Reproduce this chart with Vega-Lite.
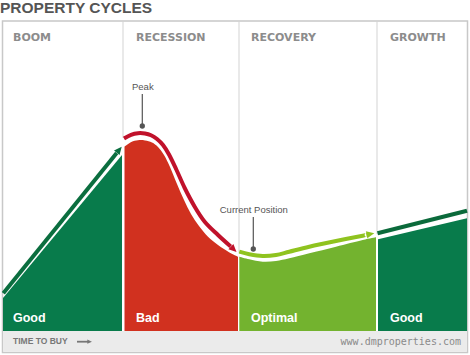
{
  "$schema": "https://vega.github.io/schema/vega-lite/v6.json",
  "width": 470,
  "height": 355,
  "padding": 0,
  "autosize": {"type": "none"},
  "background": "white",
  "config": {"view": {"stroke": null}},
  "encoding": {
    "x": {"field": "x", "type": "quantitative", "scale": {"domain": [0, 470], "nice": false, "zero": false}, "axis": null},
    "y": {"field": "y", "type": "quantitative", "scale": {"domain": [0, 355], "nice": false, "zero": false}, "axis": null}
  },
  "layer": [
    {
      "data": {"values": [{"x": 2.5, "x2": 467.5, "y": 334, "y2": 2.5}]},
      "mark": {"type": "rect", "fill": "white", "stroke": "#c8c8c8", "strokeWidth": 1.5},
      "encoding": {"x2": {"field": "x2"}, "y2": {"field": "y2"}}
    },
    {
      "data": {"values": [{"x": 3.2, "x2": 466.8, "y": 24, "y2": 3.2}]},
      "mark": {"type": "rect", "fill": "#ebebeb"},
      "encoding": {"x2": {"field": "x2"}, "y2": {"field": "y2"}}
    },
    {
      "data": {"values": [{"x": 123, "y": 334, "y2": 217}, {"x": 239, "y": 334, "y2": 102}, {"x": 377, "y": 334, "y2": 121}]},
      "mark": {"type": "rule", "stroke": "#d3d3d3", "strokeWidth": 1},
      "encoding": {"y2": {"field": "y2"}}
    },
    {
      "data": {"values": [
        {"phase": "Boom", "x": 3, "y": 57}, {"phase": "Boom", "x": 122, "y": 200},
        {"phase": "Recession", "x": 124.5, "y": 208.3}, {"phase": "Recession", "x": 131.3, "y": 213},
        {"phase": "Recession", "x": 138, "y": 214.8}, {"phase": "Recession", "x": 145, "y": 214.6},
        {"phase": "Recession", "x": 152, "y": 212.5}, {"phase": "Recession", "x": 158, "y": 208},
        {"phase": "Recession", "x": 164, "y": 200}, {"phase": "Recession", "x": 170, "y": 188},
        {"phase": "Recession", "x": 177, "y": 171}, {"phase": "Recession", "x": 184, "y": 155},
        {"phase": "Recession", "x": 191, "y": 141}, {"phase": "Recession", "x": 199, "y": 129},
        {"phase": "Recession", "x": 208, "y": 118.3}, {"phase": "Recession", "x": 218, "y": 110},
        {"phase": "Recession", "x": 229, "y": 102.8}, {"phase": "Recession", "x": 238, "y": 98.3},
        {"phase": "Recovery", "x": 239.3, "y": 98.3}, {"phase": "Recovery", "x": 249.3, "y": 95.7},
        {"phase": "Recovery", "x": 262.7, "y": 93.3}, {"phase": "Recovery", "x": 276, "y": 94},
        {"phase": "Recovery", "x": 289.3, "y": 96.7}, {"phase": "Recovery", "x": 309.3, "y": 101.7},
        {"phase": "Recovery", "x": 336, "y": 108.3}, {"phase": "Recovery", "x": 362.7, "y": 115},
        {"phase": "Recovery", "x": 376, "y": 117.7},
        {"phase": "Growth", "x": 378, "y": 115.7}, {"phase": "Growth", "x": 467, "y": 136.7}
      ]},
      "mark": {"type": "area", "interpolate": "cardinal"},
      "encoding": {
        "y2": {"datum": 24},
        "fill": {"field": "phase", "type": "nominal", "scale": {"domain": ["Boom", "Recession", "Recovery", "Growth"], "range": ["#087b4b", "#d1311f", "#73b32f", "#087b4b"]}, "legend": null}
      }
    },
    {
      "data": {"values": [
        {"phase": "Boom", "x": 3.3, "y": 61.7}, {"phase": "Boom", "x": 116.7, "y": 202.1},
        {"phase": "Recession", "x": 124, "y": 216.5}, {"phase": "Recession", "x": 131, "y": 220.2},
        {"phase": "Recession", "x": 138, "y": 221.8}, {"phase": "Recession", "x": 145, "y": 221.5},
        {"phase": "Recession", "x": 151, "y": 219.8}, {"phase": "Recession", "x": 157, "y": 216},
        {"phase": "Recession", "x": 163, "y": 210}, {"phase": "Recession", "x": 169, "y": 200.5},
        {"phase": "Recession", "x": 176.3, "y": 185.5}, {"phase": "Recession", "x": 184.7, "y": 167},
        {"phase": "Recession", "x": 194.7, "y": 148.3}, {"phase": "Recession", "x": 204.7, "y": 133.3},
        {"phase": "Recession", "x": 218, "y": 120}, {"phase": "Recession", "x": 230.7, "y": 108.5},
        {"phase": "Recovery", "x": 239.3, "y": 103.3}, {"phase": "Recovery", "x": 249.3, "y": 100.7},
        {"phase": "Recovery", "x": 262.7, "y": 99}, {"phase": "Recovery", "x": 276, "y": 100},
        {"phase": "Recovery", "x": 289.3, "y": 103.3}, {"phase": "Recovery", "x": 309.3, "y": 108.3},
        {"phase": "Recovery", "x": 336, "y": 114}, {"phase": "Recovery", "x": 362.7, "y": 119.3},
        {"phase": "Recovery", "x": 366.5, "y": 120.1},
        {"phase": "Growth", "x": 377.5, "y": 121.7}, {"phase": "Growth", "x": 467, "y": 144.3}
      ]},
      "mark": {"type": "line", "interpolate": "cardinal", "strokeWidth": 4},
      "encoding": {
        "stroke": {"field": "phase", "type": "nominal", "scale": {"domain": ["Boom", "Recession", "Recovery", "Growth"], "range": ["#0b6e3f", "#c0122b", "#8fc31f", "#0b6a3b"]}, "legend": null}
      }
    },
    {
      "data": {"values": [{"x": 118.9, "y": 204.8}]},
      "mark": {"type": "point", "shape": "M0,-1L0.8,0.75L-0.8,0.75Z", "filled": true, "opacity": 1, "size": 80, "angle": 39, "color": "#0b6e3f"}
    },
    {
      "data": {"values": [{"x": 233.3, "y": 106.1}]},
      "mark": {"type": "point", "shape": "M0,-1L0.8,0.75L-0.8,0.75Z", "filled": true, "opacity": 1, "size": 80, "angle": 134, "color": "#c0122b"}
    },
    {
      "data": {"values": [{"x": 369.9, "y": 120.8}]},
      "mark": {"type": "point", "shape": "M0,-1L0.8,0.75L-0.8,0.75Z", "filled": true, "opacity": 1, "size": 80, "angle": 78.5, "color": "#8fc31f"}
    },
    {
      "data": {"values": [{"x": 142.3, "y": 261, "y2": 229}, {"x": 253.3, "y": 138, "y2": 106}]},
      "mark": {"type": "rule", "stroke": "#555555", "strokeWidth": 1.2},
      "encoding": {"y2": {"field": "y2"}}
    },
    {
      "data": {"values": [{"x": 142.3, "y": 229}, {"x": 253.3, "y": 106}]},
      "mark": {"type": "point", "shape": "circle", "filled": true, "opacity": 1, "size": 28, "color": "#555555"}
    },
    {
      "data": {"values": [{"x": 142.8, "y": 265, "label": "Peak"}, {"x": 253.8, "y": 142.3, "label": "Current Position"}]},
      "mark": {"type": "text", "font": "Liberation Sans", "fontSize": 9.5, "color": "#555555", "align": "center", "baseline": "alphabetic"},
      "encoding": {"text": {"field": "label"}}
    },
    {
      "data": {"values": [{"x": 0, "y": 342, "label": "PROPERTY CYCLES"}]},
      "mark": {"type": "text", "font": "Liberation Sans", "fontWeight": "bold", "fontSize": 15.5, "color": "#555555", "align": "left", "baseline": "alphabetic"},
      "encoding": {"text": {"field": "label"}}
    },
    {
      "data": {"values": [{"x": 13, "y": 314, "label": "BOOM"}, {"x": 136, "y": 314, "label": "RECESSION"}, {"x": 251, "y": 314, "label": "RECOVERY"}, {"x": 390, "y": 314, "label": "GROWTH"}]},
      "mark": {"type": "text", "font": "DejaVu Sans", "fontWeight": "bold", "fontSize": 11, "color": "#8c8c8c", "align": "left", "baseline": "alphabetic"},
      "encoding": {"text": {"field": "label"}}
    },
    {
      "data": {"values": [{"x": 13, "y": 33, "label": "Good"}, {"x": 136, "y": 33, "label": "Bad"}, {"x": 251, "y": 33, "label": "Optimal"}, {"x": 390, "y": 33, "label": "Good"}]},
      "mark": {"type": "text", "font": "Liberation Sans", "fontWeight": "bold", "fontSize": 12.5, "color": "white", "align": "left", "baseline": "alphabetic"},
      "encoding": {"text": {"field": "label"}}
    },
    {
      "data": {"values": [{"x": 13, "y": 10.7, "label": "TIME TO BUY"}]},
      "mark": {"type": "text", "font": "Liberation Sans", "fontWeight": "bold", "fontSize": 8.5, "color": "#777777", "align": "left", "baseline": "alphabetic"},
      "encoding": {"text": {"field": "label"}}
    },
    {
      "data": {"values": [{"x": 77, "x2": 88, "y": 13.3}]},
      "mark": {"type": "rule", "stroke": "#777777", "strokeWidth": 1.8},
      "encoding": {"x2": {"field": "x2"}}
    },
    {
      "data": {"values": [{"x": 89.3, "y": 13.3}]},
      "mark": {"type": "point", "shape": "M0,-1L0.8,0.75L-0.8,0.75Z", "filled": true, "opacity": 1, "size": 28, "angle": 90, "color": "#777777"}
    },
    {
      "data": {"values": [{"x": 461, "y": 10.5, "label": "www.dmproperties.com"}]},
      "mark": {"type": "text", "font": "DejaVu Sans Mono", "fontSize": 10, "color": "#8a8a8a", "align": "right", "baseline": "alphabetic"},
      "encoding": {"text": {"field": "label"}}
    }
  ]
}
